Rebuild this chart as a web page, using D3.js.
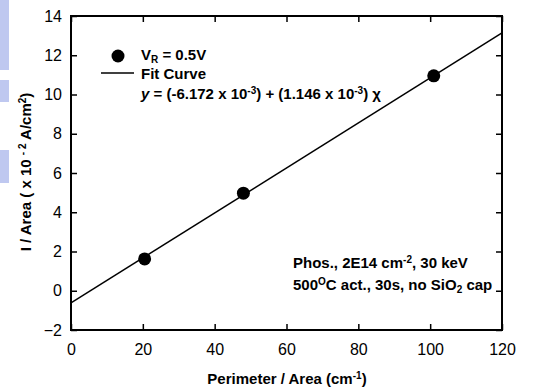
<!DOCTYPE html>
<html><head><meta charset="utf-8">
<script src="https://cdn.jsdelivr.net/npm/d3@7"></script>
<style>body{margin:0;background:#fff}svg{display:block}text{font-family:"Liberation Sans",Arial,sans-serif}</style>
</head><body>
<svg id="c" width="546" height="392"></svg>
<script>
const pointX = [20.5, 48, 101];
const pointY = [1.62, 4.97, 10.95];
const fitIntercept = -0.6172;
const fitSlope = 0.1146;
const xTicks = [0, 20, 40, 60, 80, 100, 120];
const yTicks = [-2, 0, 2, 4, 6, 8, 10, 12, 14];

const svg = d3.select("#c");
const L = 71, R = 502, T = 16, B = 330;
const x = d3.scaleLinear().domain([0, 120]).range([L, R]);
const y = d3.scaleLinear().domain([-2, 14]).range([B, T]);

// faint background scan marks
svg.append("g").selectAll("rect").data([[0,70],[80,102],[150,183]]).join("rect")
  .attr("x",0).attr("width",9).attr("y",d=>d[0]).attr("height",d=>d[1]-d[0]).attr("fill","#bfc8f0");

const tl = 6;
const ax = (g) => g.selectAll(".domain").remove();
svg.append("g").attr("transform",`translate(0,${B})`)
  .call(d3.axisBottom(x).tickValues(xTicks).tickSizeInner(-tl).tickSizeOuter(0).tickPadding(14))
  .call(ax).call(g=>g.selectAll("text").attr("font-size",16).attr("fill","#000"))
  .call(g=>g.selectAll("line").attr("stroke","#000").attr("stroke-width",1.5));
svg.append("g").attr("transform",`translate(0,${T})`)
  .call(d3.axisTop(x).tickValues(xTicks).tickSizeInner(-tl).tickSizeOuter(0).tickFormat(""))
  .call(ax).call(g=>g.selectAll("line").attr("stroke","#000").attr("stroke-width",1.5));
svg.append("g").attr("transform",`translate(${L},0)`)
  .call(d3.axisLeft(y).tickValues(yTicks).tickSizeInner(-tl).tickSizeOuter(0).tickPadding(9))
  .call(ax).call(g=>g.selectAll("text").attr("font-size",16).attr("fill","#000"))
  .call(g=>g.selectAll("line").attr("stroke","#000").attr("stroke-width",1.5));
svg.append("g").attr("transform",`translate(${R},0)`)
  .call(d3.axisRight(y).tickValues(yTicks).tickSizeInner(-tl).tickSizeOuter(0).tickFormat(""))
  .call(ax).call(g=>g.selectAll("line").attr("stroke","#000").attr("stroke-width",1.5));

svg.append("rect").attr("x",L).attr("y",T).attr("width",R-L).attr("height",B-T)
  .attr("fill","none").attr("stroke","#000").attr("stroke-width",2);

// fit line
svg.append("line")
  .attr("x1",x(0)).attr("y1",y(fitIntercept))
  .attr("x2",x(120)).attr("y2",y(fitIntercept+fitSlope*120))
  .attr("stroke","#000").attr("stroke-width",1.5);

svg.append("g").selectAll("circle").data(pointX).join("circle")
  .attr("cx",d=>x(d)).attr("cy",(d,i)=>y(pointY[i])).attr("r",6.5).attr("fill","#000");

// legend
svg.append("circle").attr("cx",118).attr("cy",56).attr("r",6.5).attr("fill","#000");
svg.append("line").attr("x1",101).attr("x2",134).attr("y1",73).attr("y2",73).attr("stroke","#000").attr("stroke-width",1.5);
const FS = 15, SS = 10;
const bold = (sel)=>sel.attr("font-weight","bold").attr("font-size",FS).attr("fill","#000");
const t1 = svg.append("text").attr("x",141).attr("y",60).call(bold);
t1.append("tspan").text("V");
t1.append("tspan").attr("font-size",SS).attr("baseline-shift","-3").text("R");
t1.append("tspan").text(" = 0.5V");
svg.append("text").attr("x",141).attr("y",79).call(bold).text("Fit Curve");
const eq = svg.append("text").attr("x",141).attr("y",99).call(bold);
eq.append("tspan").attr("font-style","italic").text("y");
eq.append("tspan").text(" = (-6.172 x 10");
eq.append("tspan").attr("font-size",SS).attr("baseline-shift","5").text("-3");
eq.append("tspan").text(") + (1.146 x 10");
eq.append("tspan").attr("font-size",SS).attr("baseline-shift","5").text("-3");
eq.append("tspan").text(") χ");

// annotation
const a1 = svg.append("text").attr("x",293).attr("y",268).call(bold);
a1.append("tspan").text("Phos., 2E14 cm");
a1.append("tspan").attr("font-size",SS).attr("baseline-shift","5").text("-2");
a1.append("tspan").text(", 30 keV");
const a2 = svg.append("text").attr("x",293).attr("y",290).call(bold);
a2.append("tspan").text("500");
a2.append("tspan").attr("font-size",SS).attr("baseline-shift","5").text("O");
a2.append("tspan").text("C act., 30s, no SiO");
a2.append("tspan").attr("font-size",SS).attr("baseline-shift","-3").text("2");
a2.append("tspan").text(" cap");

// axis titles
const xt = svg.append("text").attr("x",287).attr("y",384).attr("text-anchor","middle").call(bold);
xt.append("tspan").text("Perimeter / Area (cm");
xt.append("tspan").attr("font-size",SS).attr("baseline-shift","5").text("-1");
xt.append("tspan").text(")");
const yt = svg.append("text").attr("transform","translate(31,172) rotate(-90)").attr("text-anchor","middle").call(bold);
yt.append("tspan").text("I / Area ( x 10 ");
yt.append("tspan").attr("font-size",SS).attr("baseline-shift","5").text("- 2");
yt.append("tspan").text(" A/cm");
yt.append("tspan").attr("font-size",SS).attr("baseline-shift","5").text("2");
yt.append("tspan").text(")");
</script>
</body></html>
